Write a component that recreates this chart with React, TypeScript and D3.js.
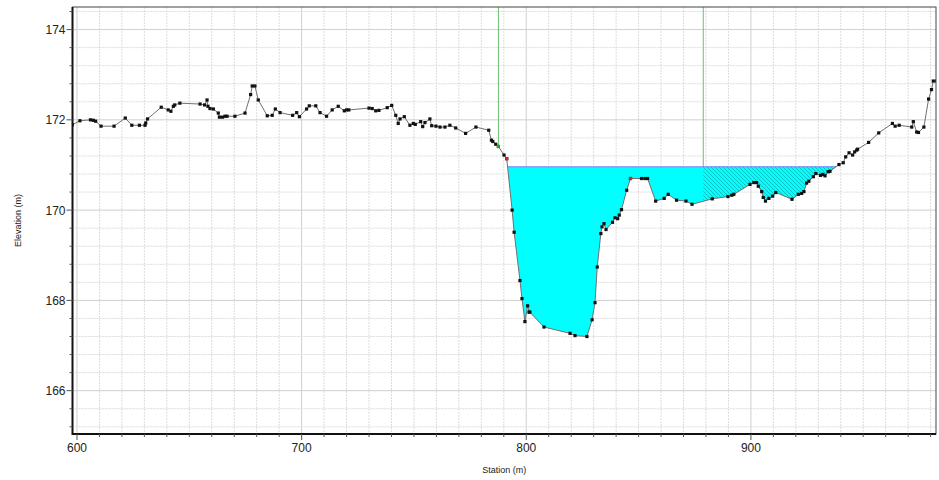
import React from 'react';
import * as d3 from 'd3';

// ground profile
const stations = [
  597.9, 601.3, 606.0, 607.3, 608.3, 610.7, 616.5, 621.5, 624.4, 627.8, 630.3, 630.6, 631.4, 637.5, 640.6, 641.8,
  642.9, 643.5, 645.8, 654.8, 656.8, 657.9, 658.3, 659.2, 660.7, 662.9, 663.4, 664.8, 665.9, 666.8, 670.3, 674.8,
  677.3, 678.0, 679.2, 680.7, 684.7, 686.9, 688.3, 690.4, 696.0, 697.8, 699.0, 702.2, 703.4, 706.3, 708.2, 711.1,
  713.6, 716.3, 719.0, 720.0, 721.0, 730.0, 731.4, 733.0, 734.4, 738.1, 740.1, 741.9, 743.0, 743.8, 745.7, 748.2,
  749.7, 750.6, 753.0, 753.9, 754.9, 757.1, 757.9, 759.8, 761.6, 763.8, 766.0, 768.6, 773.0, 777.6, 783.3, 784.5,
  785.1, 786.4, 787.6, 790.1, 791.3, 793.7, 794.6, 797.2, 798.1, 799.4, 800.6, 801.2, 801.6, 807.9, 819.5, 821.7,
  827.0, 829.3, 830.6, 831.6, 833.2, 833.7, 834.6, 835.5, 838.4, 839.5, 840.7, 841.4, 842.4, 844.7, 846.4, 851.3,
  852.8, 854.0, 857.6, 861.4, 863.2, 866.9, 871.1, 873.8, 882.8, 889.8, 891.5, 892.4, 899.6, 901.3, 902.5, 903.3,
  904.8, 905.5, 906.5, 908.0, 909.7, 911.1, 918.3, 921.1, 922.6, 923.6, 924.8, 925.8, 927.8, 928.9, 931.0, 932.0,
  933.0, 934.4, 935.2, 939.2, 941.1, 942.2, 943.7, 945.3, 946.2, 947.1, 947.5, 952.4, 956.9, 963.0, 964.2, 966.0,
  971.6, 972.3, 973.8, 974.6, 977.0, 979.1, 980.4, 981.2, 982.7,
];
const elevations = [
  171.89, 171.98, 172.00, 171.99, 171.97, 171.86, 171.86, 172.04, 171.88, 171.88, 171.88, 171.93, 172.02, 172.28, 172.22, 172.19,
  172.30, 172.33, 172.37, 172.35, 172.33, 172.44, 172.30, 172.25, 172.24, 172.15, 172.06, 172.06, 172.08, 172.08, 172.08, 172.15,
  172.56, 172.75, 172.75, 172.44, 172.09, 172.10, 172.24, 172.16, 172.10, 172.16, 172.07, 172.24, 172.31, 172.31, 172.16, 172.08,
  172.22, 172.30, 172.20, 172.22, 172.22, 172.26, 172.25, 172.20, 172.21, 172.27, 172.32, 172.10, 171.92, 172.02, 172.07, 171.88,
  171.92, 171.90, 171.96, 171.85, 171.94, 172.02, 171.87, 171.86, 171.84, 171.84, 171.88, 171.82, 171.70, 171.84, 171.77, 171.55,
  171.52, 171.46, 171.41, 171.22, 171.14, 170.00, 169.51, 168.44, 168.04, 167.53, 167.88, 167.74, 167.74, 167.41, 167.27, 167.22,
  167.20, 167.57, 167.95, 168.74, 169.48, 169.63, 169.70, 169.57, 169.73, 169.83, 169.81, 169.89, 170.01, 170.44, 170.70, 170.70,
  170.70, 170.70, 170.20, 170.26, 170.35, 170.22, 170.20, 170.13, 170.25, 170.30, 170.33, 170.35, 170.57, 170.61, 170.61, 170.53,
  170.41, 170.28, 170.20, 170.26, 170.31, 170.39, 170.24, 170.35, 170.37, 170.41, 170.60, 170.64, 170.74, 170.81, 170.77, 170.79,
  170.76, 170.85, 170.86, 171.01, 171.05, 171.18, 171.27, 171.22, 171.29, 171.33, 171.35, 171.50, 171.71, 171.92, 171.86, 171.88,
  171.84, 171.96, 171.73, 171.72, 171.84, 172.46, 172.67, 172.86, 172.86,
];

const waterSurface = 170.96;
const bankStations = [787.6, 878.8];
const redStations = [791.3, 846.4];
const greenStations = [787.6];

const xTickLabels = [600, 700, 800, 900];
const yTickLabels = [166, 168, 170, 172, 174];
const xDomain = [598.0, 982.4];
const yDomain = [165.04, 174.5];

const FONT = 'Arial, "Liberation Sans", sans-serif';

// wet part of the section: points below the water surface plus the two crossings
function wetPolygon(xs: number[], ys: number[], ws: number) {
  const pts: [number, number][] = [];
  for (let i = 0; i < xs.length; i++) {
    if (i > 0) {
      const a = ys[i - 1] - ws, b = ys[i] - ws;
      if ((a > 0 && b <= 0) || (a <= 0 && b > 0)) {
        const t = a / (a - b);
        pts.push([xs[i - 1] + t * (xs[i] - xs[i - 1]), ws]);
      }
    }
    if (ys[i] <= ws) pts.push([xs[i], ys[i]]);
  }
  return pts;
}

function CrossSection({left, top, right, bottom}) {

  const x = d3.scaleLinear().domain(xDomain).range([left, right]);
  const y = d3.scaleLinear().domain(yDomain).range([bottom, top]);

  const ground = stations.map((s, i) => [s, elevations[i]] as [number, number]);
  const line = d3.line<[number, number]>().x((d) => x(d[0])).y((d) => y(d[1]));

  const wet = wetPolygon(stations, elevations, waterSurface);
  const wetPath = line(wet) + 'Z';
  const wsStart = wet[0][0];
  const wsEnd = wet[wet.length - 1][0];

  const minorX = d3.range(60, 99).map((i) => i * 10);
  const minorY = d3.range(413, 437).map((i) => i * 0.4);
  const isMajorY = (v: number) => Math.abs(v - Math.round(v)) < 1e-6 && Math.round(v) % 2 === 0;

  const elevAt = (s: number) => {
    const i = stations.indexOf(s);
    return i >= 0 ? elevations[i] : waterSurface;
  };

  return (
    <g>
      <defs>
        <pattern id="hatch" patternUnits="userSpaceOnUse" width={4} height={4}>
          <rect width={4} height={4} fill="#00ffff" />
          <path d="M-1,-1 L5,5 M-1,3 L1,5 M3,-1 L5,1" stroke="#1a9a9a" strokeWidth={0.6} />
        </pattern>
        <clipPath id="rob">
          <rect x={x(bankStations[1])} y={top} width={right - x(bankStations[1])} height={bottom - top} />
        </clipPath>
        <clipPath id="plot">
          <rect x={left} y={top} width={right - left} height={bottom - top} />
        </clipPath>
      </defs>

      <rect x={left} y={top} width={right - left} height={bottom - top} fill="#fff" />

      {/* grid */}
      {minorX.map((v, i) => (
        <line key={`gx_${i}`} x1={x(v)} x2={x(v)} y1={top} y2={bottom}
          stroke={v % 100 === 0 ? '#cfcfcf' : '#dcdcdc'} strokeWidth={1}
          strokeDasharray={v % 100 === 0 ? null : '2,1'} />
      ))}
      {minorY.map((v, i) => (
        <line key={`gy_${i}`} x1={left} x2={right} y1={y(v)} y2={y(v)}
          stroke={isMajorY(v) ? '#cfcfcf' : '#dcdcdc'} strokeWidth={1}
          strokeDasharray={isMajorY(v) ? null : '2,1'} />
      ))}

      {/* bank stations */}
      {bankStations.map((s, i) => (
        <line key={`bank_${i}`} x1={x(s)} x2={x(s)} y1={top} y2={y(elevAt(s))} stroke="#6cc070" strokeWidth={1} />
      ))}

      {/* water */}
      <g clipPath="url(#plot)">
        <path d={wetPath} fill="#00ffff" />
        <path d={wetPath} fill="url(#hatch)" clipPath="url(#rob)" />
        <line x1={x(wsStart)} x2={x(wsEnd)} y1={y(waterSurface)} y2={y(waterSurface)} stroke="#7f7fef" strokeWidth={1} />
      </g>

      {/* ground */}
      <g clipPath="url(#plot)">
        <path d={line(ground)} fill="none" stroke="#707070" strokeWidth={1} />
        {ground.map((d, i) => (
          <rect key={`pt_${i}`} x={x(d[0]) - 1.6} y={y(d[1]) - 1.6} width={3.2} height={3.2} fill="#111" />
        ))}
        {redStations.map((s, i) => (
          <rect key={`red_${i}`} x={x(s) - 1.6} y={y(elevAt(s)) - 1.6} width={3.2} height={3.2} fill="#e02020" />
        ))}
        {greenStations.map((s, i) => (
          <rect key={`grn_${i}`} x={x(s) - 1.6} y={y(elevAt(s)) - 1.6} width={3.2} height={3.2} fill="#20a020" />
        ))}
      </g>

      {/* frame */}
      <rect x={left} y={top} width={right - left} height={bottom - top} fill="none" stroke="#444" strokeWidth={1} />
      <line x1={left} x2={right} y1={bottom} y2={bottom} stroke="#111" strokeWidth={2} />
      <line x1={left} x2={left} y1={top} y2={bottom + 1} stroke="#111" strokeWidth={2} />

      {/* ticks */}
      {minorX.map((v, i) => (
        <line key={`tx_${i}`} x1={x(v)} x2={x(v)} y1={bottom} y2={bottom + (v % 100 === 0 ? 6 : 3)} stroke="#555" strokeWidth={1} />
      ))}
      {minorY.map((v, i) => (
        <line key={`ty_${i}`} x1={left - (isMajorY(v) ? 6 : 3)} x2={left} y1={y(v)} y2={y(v)} stroke="#555" strokeWidth={1} />
      ))}
      {xTickLabels.map((v, i) => (
        <text key={`lx_${i}`} x={x(v)} y={bottom + 18} textAnchor="middle" fontFamily={FONT} fontSize={12} fill="#222">{v}</text>
      ))}
      {yTickLabels.map((v, i) => (
        <text key={`ly_${i}`} x={left - 7} y={y(v) + 4.5} textAnchor="end" fontFamily={FONT} fontSize={12} fill="#222">{v}</text>
      ))}

      <text x={(left + right) / 2} y={bottom + 39} textAnchor="middle" fontFamily={FONT} fontSize={9} fill="#222">Station (m)</text>
      <text transform={`translate(21, ${(top + bottom) / 2}) rotate(-90)`} textAnchor="middle" fontFamily={FONT} fontSize={9} fill="#222">Elevation (m)</text>
    </g>
  );
}

export default function App() {
  return (
    <svg width={939} height={480} xmlns="http://www.w3.org/2000/svg"
      style={{position: 'absolute', left: 0, top: 0, background: '#fff'}}>
      <CrossSection left={72.5} top={7} right={936} bottom={434} />
    </svg>
  );
}
